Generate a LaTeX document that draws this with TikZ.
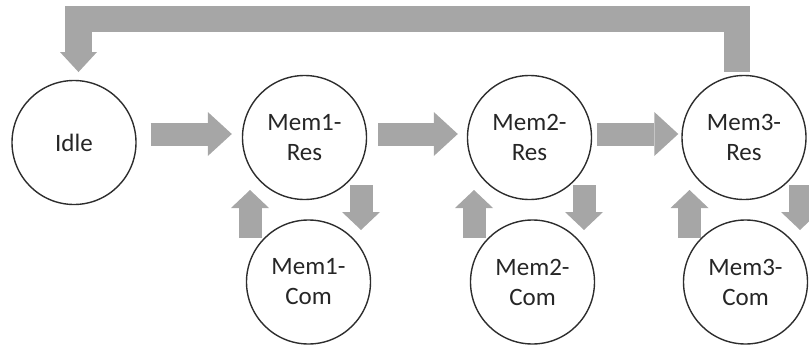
\documentclass[tikz,border=0pt]{standalone}
\usepackage{fontspec}
\setmainfont{Carlito}
\usetikzlibrary{arrows.meta,calc}
\definecolor{arrowgray}{RGB}{166,166,166}
\definecolor{ringgray}{RGB}{45,45,45}
\begin{document}
\begin{tikzpicture}[x=1pt,y=-1pt,
  state/.style={circle, draw=ringgray, line width=1.4pt, minimum size=124pt,
    inner sep=0pt, align=center, text=black!85,
    font=\fontsize{25}{30}\selectfont},
  flow/.style={draw=arrowgray, line width=23pt, line cap=butt,
    -{Triangle[width=44pt,length=24pt,line width=0pt]}},
  stepflow/.style={draw=arrowgray, line width=23pt, line cap=butt,
    -{Triangle[width=38pt,length=18pt,line width=0pt]}},
  backflow/.style={draw=arrowgray, line width=26.5pt, line cap=butt, line join=miter,
    -{Triangle[width=37pt,length=20pt,line width=0pt]}}]
\clip (0,0) rectangle (809,348);

% states
\node[state] (idle) at (74,142.5) {Idle};
\node[state] (m1r) at (304.5,137.5) {Mem1-\\Res};
\node[state] (m1c) at (308.5,282) {Mem1-\\Com};
\node[state] (m2r) at (529.5,137.5) {Mem2-\\Res};
\node[state] (m2c) at (532.5,282) {Mem2-\\Com};
\node[state] (m3r) at (744,137.5) {Mem3-\\Res};
\node[state] (m3c) at (745.5,282) {Mem3-\\Com};

% main chain
\draw[flow] ($(idle.east)+(14,-8.5)$) -- ($(m1r.west)+(-10,-3.5)$);
\draw[flow] ($(m1r.east)+(11,-3.5)$) -- ($(m2r.west)+(-9,-3.5)$);
\draw[flow] ($(m2r.east)+(5,-3.5)$) -- ($(m3r.west)+(-3,-3.5)$);

% Res <-> Com loops
\draw[stepflow] ($(m1c)+(-58.5,-44)$) -- ($(m1r)+(-54.5,52.5)$);
\draw[stepflow] ($(m1r)+(56.5,47.5)$) -- ($(m1c)+(52.5,-52)$);
\draw[stepflow] ($(m2c)+(-58.5,-44)$) -- ($(m2r)+(-55.5,52.5)$);
\draw[stepflow] ($(m2r)+(54.5,47.5)$) -- ($(m2c)+(51.5,-52)$);
\draw[stepflow] ($(m3c)+(-56,-44)$) -- ($(m3r)+(-54.5,52.5)$);
\draw[stepflow] ($(m3r)+(56,47.5)$) -- ($(m3c)+(54.5,-52)$);

% return to idle
\draw[backflow] ($(m3r.north)+(-7,-3)$) |- ($(idle.north)+(4.5,-60.75)$)
  -- ($(idle.north)+(4.5,-7.75)$);
\end{tikzpicture}
\end{document}
